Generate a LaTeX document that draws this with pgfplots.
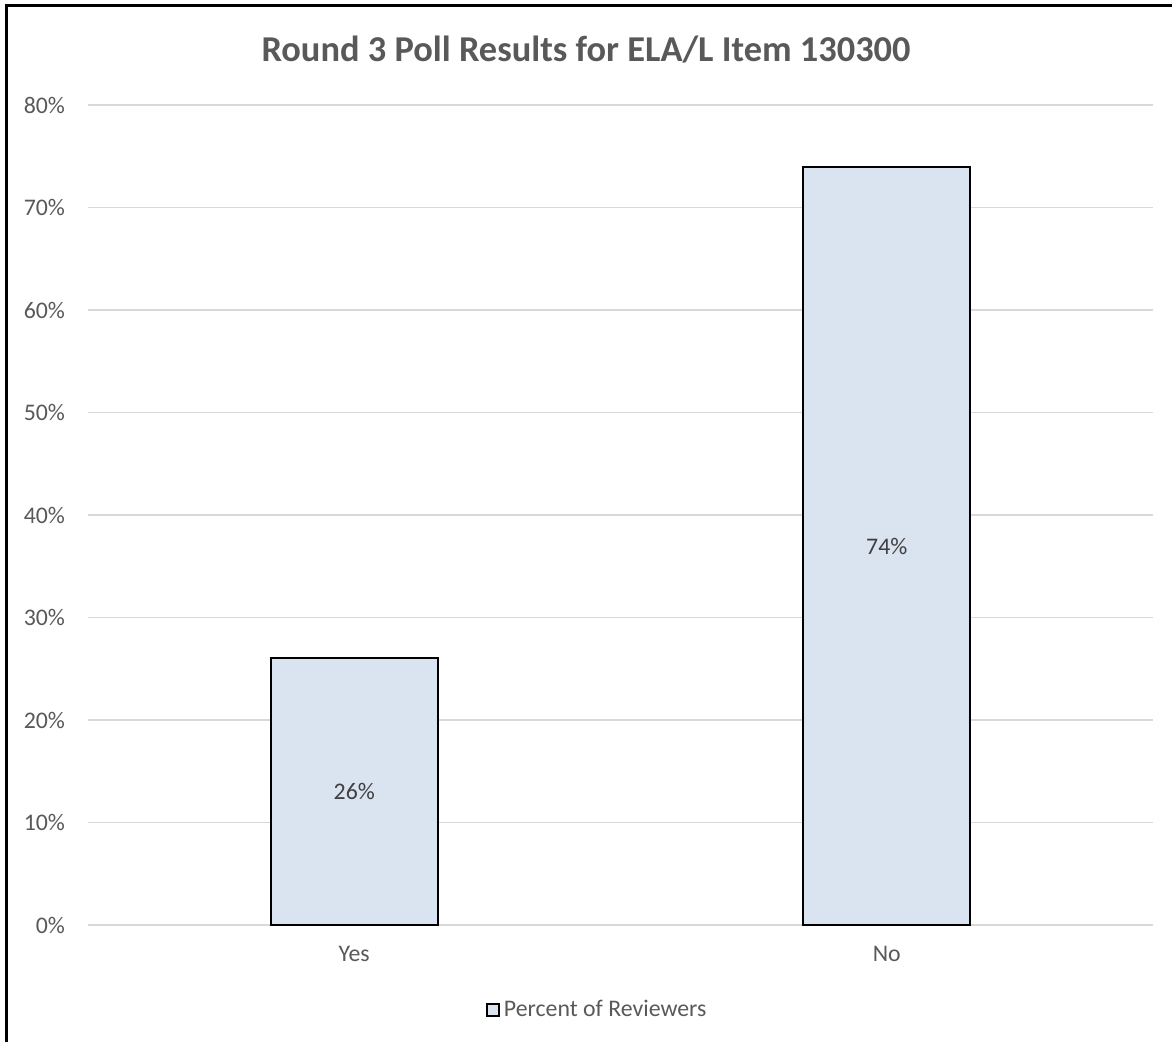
\documentclass[border=0pt]{standalone}
\usepackage{pgfplots}
\pgfplotsset{compat=1.18}
\usepackage{fontspec}
\setmainfont{Carlito}
\definecolor{txtgray}{HTML}{595959}
\definecolor{lblgray}{HTML}{404040}
\definecolor{gridgray}{HTML}{D9D9D9}
\definecolor{barfill}{HTML}{DAE3F0}
\begin{document}
\begin{tikzpicture}
\useasboundingbox (0pt,0pt) rectangle (586pt,520.5pt);
\draw[line width=1.5pt,line cap=rect] (3pt,0pt) -- (3pt,517.5pt) -- (586pt,517.5pt);
\node[font=\bfseries\fontsize{18.2}{21}\selectfont,text=txtgray] at (293pt,495.5pt) {Round 3 Poll Results for ELA/L Item 130300};
\begin{axis}[
  at={(44pt,58pt)}, anchor=south west,
  scale only axis, width=532.5pt, height=410pt,
  xmin=-0.5, xmax=1.5, ymin=0, ymax=80,
  xtick={0,1}, xticklabels={Yes,No},
  ytick={0,10,...,80},
  yticklabel={\pgfmathparse{int(round(\tick))}\pgfmathresult\%},
  /pgf/number format/assume math mode=true,
  axis line style={draw=none},
  major tick length=0pt,
  ymajorgrids, grid style={gridgray,line width=0.9pt},
  tick label style={font=\fontsize{11.9}{14}\selectfont,text=txtgray},
  yticklabel style={xshift=-8pt},
  xticklabel style={yshift=-7pt},
  ybar, bar width=83.5pt,
  legend style={at={(0.479,-0.1037)}, anchor=center, draw=none, fill=none,
    font=\fontsize{11.9}{14}\selectfont, text=txtgray,
    /tikz/every even column/.append style={column sep=2pt}},
  legend image code/.code={\draw[#1] (0pt,-3pt) rectangle (6pt,3pt);},
  nodes near coords={\pgfmathprintnumber[fixed,precision=0,assume math mode=true]{\pgfplotspointmeta}\%},
  nodes near coords align=center,
  visualization depends on={y \as \rawy},
  every node near coord/.append style={font=\fontsize{11.9}{14}\selectfont, text=lblgray, anchor=center,
    shift={(axis direction cs:0,-\rawy/2)}},
]
\addplot[draw=black, line width=1pt, fill=barfill] coordinates {(0,26.09) (1,73.91)};
\addlegendentry{Percent of Reviewers}
\end{axis}
\end{tikzpicture}
\end{document}
